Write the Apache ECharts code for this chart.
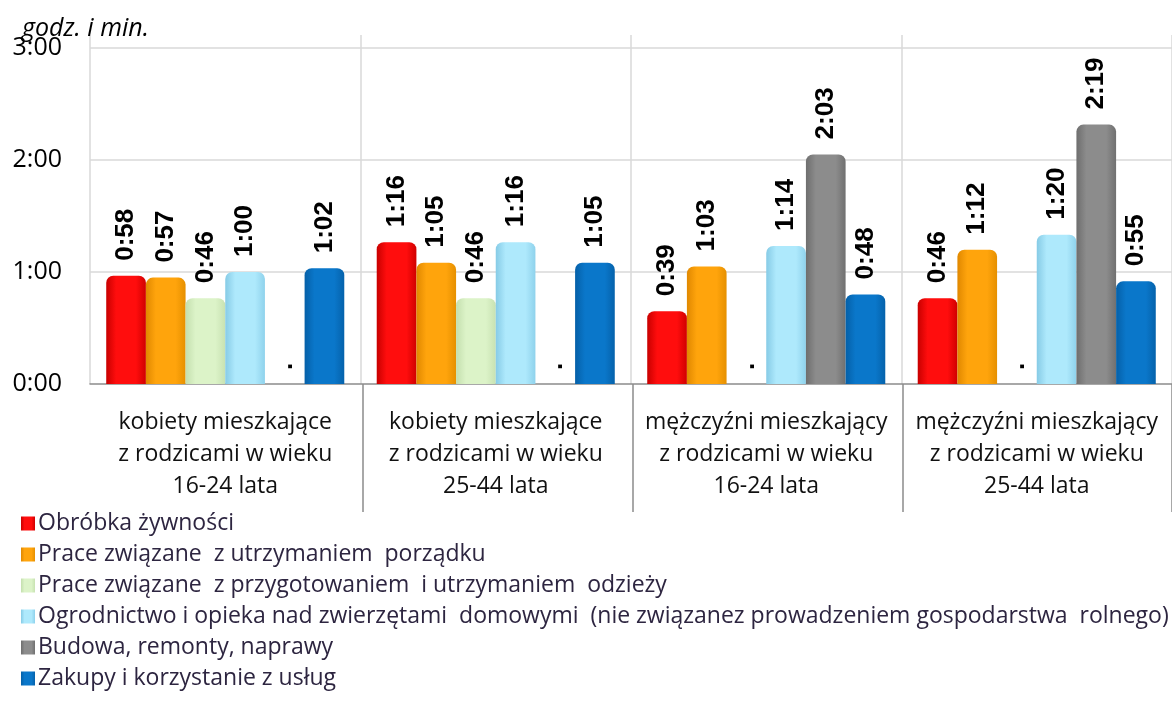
<!DOCTYPE html>
<html>
<head>
<meta charset="utf-8">
<script src="https://cdn.jsdelivr.net/npm/echarts@6/dist/echarts.min.js"></script>
<style>
    html, body { margin: 0; padding: 0; background: #fff; }
    #chart { width: 1172px; height: 715px; }
</style>
</head>
<body>
<div id="chart"></div>
<script>
// minutes; null = no data ("." in the picture)
const categories = [
    "kobiety mieszkające\nz rodzicami w wieku\n16-24 lata",
    "kobiety mieszkające\nz rodzicami w wieku\n25-44 lata",
    "mężczyźni mieszkający\nz rodzicami w wieku\n16-24 lata",
    "mężczyźni mieszkający\nz rodzicami w wieku\n25-44 lata",
];
const seriesNames = [
    "Obróbka żywności",
    "Prace związane  z utrzymaniem  porządku",
    "Prace związane  z przygotowaniem  i utrzymaniem  odzieży",
    "Ogrodnictwo i opieka nad zwierzętami  domowymi  (nie związanez prowadzeniem gospodarstwa  rolnego)",
    "Budowa, remonty, naprawy",
    "Zakupy i korzystanie z usług",
];
const food = [58, 76, 39, 46];
const cleaning = [57, 65, 63, 72];
const clothes = [46, 46, null, null];
const garden = [60, 76, 74, 80];
const building = [null, null, 123, 139];
const shopping = [62, 65, 48, 55];
const yTicks = [0, 60, 120, 180];

const colors = [
    ["#c80000", "#ff0d0d", "#d00000"],
    ["#e08800", "#ffa40c", "#e69000"],
    ["#c4dfae", "#dcf3c8", "#c8e2b2"],
    ["#86cbe6", "#aee9fc", "#8fd2ec"],
    ["#6e6e6e", "#8c8c8c", "#707070"],
    ["#0560a8", "#0a77ca", "#0562ab"],
];

const fmt = (m) => Math.floor(m / 60) + ":" + String(m % 60).padStart(2, "0");

const grad = (c) => new echarts.graphic.LinearGradient(0, 0, 1, 0, [
    { offset: 0, color: c[0] },
    { offset: 0.25, color: c[1] },
    { offset: 0.75, color: c[1] },
    { offset: 1, color: c[2] },
]);

const chart = echarts.init(document.getElementById("chart"));

const series = [food, cleaning, clothes, garden, building, shopping].map((vals, i) => ({
    name: seriesNames[i],
    type: "bar",
    barGap: "0%",
    barCategoryGap: "12%",
    itemStyle: { color: grad(colors[i]), borderRadius: [7, 7, 0, 0] },
    label: {
        show: true,
        position: "top",
        rotate: 90,
        align: "left",
        verticalAlign: "middle",
        distance: 15,
        color: "#000",
        fontFamily: "Liberation Sans",
        fontWeight: "bold",
        fontSize: 26,
        formatter: (p) => fmt(p.value),
    },
    data: vals.map((v) =>
        v === null
            ? { value: 0, label: { formatter: ".", distance: 14 } }
            : v
    ),
    markLine: i === 0 ? {
        silent: true,
        z: 1,
        symbol: "none",
        label: { show: false },
        lineStyle: { color: "#d9d9d9", type: "solid", width: 1.5 },
        data: yTicks.slice(1).map((t) => ({ yAxis: t })),
        animation: false,
    } : undefined,
}));

chart.setOption({
    animation: false,
    title: {
        text: "godz. i min.",
        left: 17,
        top: 11,
        textStyle: {
            fontFamily: "Open Sans",
            fontStyle: "italic",
            fontWeight: "normal",
            fontSize: 25,
            color: "#000",
        },
    },
    legend: {
        orient: "vertical",
        left: 16,
        top: 507,
        itemGap: 8,
        itemWidth: 14,
        itemHeight: 14,
        icon: "rect",
        textStyle: { fontFamily: "Open Sans", fontSize: 23, color: "#2d2540", padding: [0, 0, 0, -2] },
        data: seriesNames.map((n, i) => ({ name: n, itemStyle: { color: grad(colors[i]) } })),
    },
    grid: [
        { left: 90, right: -10, top: 35, bottom: 331 },
        { left: 363, right: -10, top: 35, bottom: 331 },
    ],
    xAxis: [
        {
            type: "category",
            data: categories,
            axisLine: { lineStyle: { color: "#8c8c8c", width: 1.5 } },
            axisTick: { length: 9, lineStyle: { color: "#8c8c8c", width: 1.5 } },
            splitLine: { show: true, lineStyle: { color: "#d9d9d9", width: 1.5 } },
            axisLabel: {
                interval: 0,
                margin: 22,
                fontFamily: "Open Sans",
                fontSize: 23,
                lineHeight: 32,
                color: "#111",
            },
        },
        {
            // long separators under the category labels
            gridIndex: 1,
            type: "category",
            data: categories.slice(1),
            axisLine: { show: false },
            axisLabel: { show: false },
            axisTick: { show: true, length: 128, lineStyle: { color: "#8c8c8c", width: 1.5 } },
        },
    ],
    yAxis: [
        {
            type: "value",
            min: 0,
            max: 187,
            interval: 60,
            axisLine: { show: false },
            axisTick: { show: false },
            splitLine: { show: false },
            axisLabel: {
                showMaxLabel: false,
                align: "right",
                margin: 28,
                fontFamily: "Open Sans",
                fontSize: 25,
                color: "#000",
                formatter: (v) => (v % 60 === 0 ? fmt(v) : ""),
            },
        },
        { gridIndex: 1, type: "value", show: false },
    ],
    series: series,
});
</script>
</body>
</html>
